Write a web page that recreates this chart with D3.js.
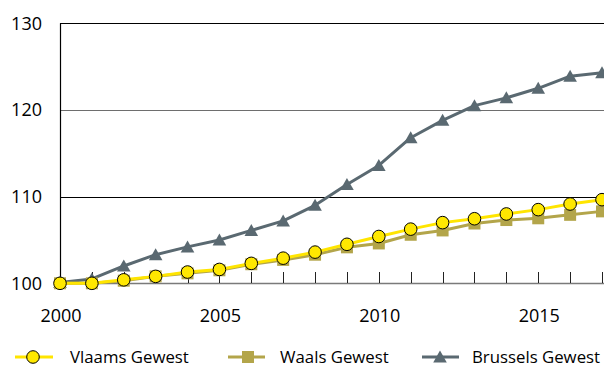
<!DOCTYPE html>
<html>
<head>
<meta charset="utf-8">
<script src="https://cdn.jsdelivr.net/npm/d3@7"></script>
<style>
  html, body { margin: 0; padding: 0; background: #fff; }
  svg { display: block; }
  text { font-family: "Open Sans", sans-serif; fill: #000; }
</style>
</head>
<body>
<svg id="chart" width="604" height="367"></svg>
<script>
const years = [2000, 2001, 2002, 2003, 2004, 2005, 2006, 2007, 2008, 2009, 2010, 2011, 2012, 2013, 2014, 2015, 2016, 2017];
const vlaams = [100, 100, 100.4, 100.8, 101.3, 101.6, 102.3, 102.9, 103.6, 104.5, 105.4, 106.25, 107.0, 107.45, 108.0, 108.5, 109.15, 109.65];
const waals = [100, 100, 100.3, 100.8, 101.15, 101.5, 102.2, 102.7, 103.3, 104.15, 104.6, 105.6, 106.1, 106.9, 107.3, 107.5, 107.9, 108.3];
const brussels = [100.1, 100.5, 102.0, 103.3, 104.2, 105.0, 106.1, 107.2, 109.0, 111.4, 113.6, 116.8, 118.8, 120.5, 121.4, 122.5, 123.9, 124.3];
const yTicks = [100, 110, 120, 130];
const xTickLabels = [2000, 2005, 2010, 2015];
const seriesNames = ["Vlaams Gewest", "Waals Gewest", "Brussels Gewest"];

const svg = d3.select("#chart");
const x = d3.scaleLinear().domain([2000, 2017]).range([60, 602]);
const y = d3.scaleLinear().domain([100, 130]).range([283.3, 23.3]);
const plotRight = 604;

// gridlines
const gridColors = {130: "#000", 120: "#6e6e6e", 110: "#000"};
svg.append("g").selectAll("line").data(yTicks.filter(t => t > 100)).join("line")
  .attr("x1", 60).attr("x2", plotRight)
  .attr("y1", d => Math.round(y(d)) + 0.5).attr("y2", d => Math.round(y(d)) + 0.5)
  .attr("stroke", d => gridColors[d]).attr("stroke-width", 1.2);

// x axis line and ticks (inside, pointing up)
svg.append("line").attr("x1", 60).attr("x2", plotRight)
  .attr("y1", 283.5).attr("y2", 283.5).attr("stroke", "#7a7a7a").attr("stroke-width", 1.6);
svg.append("g").selectAll("line").data(years.slice(1)).join("line")
  .attr("x1", d => Math.round(x(d)) + 0.5).attr("x2", d => Math.round(x(d)) + 0.5)
  .attr("y1", 272).attr("y2", 283)
  .attr("stroke", "#222").attr("stroke-width", 1);

// y axis line
svg.append("line").attr("x1", 60.5).attr("x2", 60.5)
  .attr("y1", y(130)).attr("y2", 284).attr("stroke", "#000").attr("stroke-width", 1.2);

// y labels
svg.append("g").selectAll("text").data(yTicks).join("text")
  .attr("x", 42).attr("y", d => y(d) + 6.2)
  .attr("text-anchor", "end").attr("font-size", 18)
  .text(d => d);

// x labels
svg.append("g").selectAll("text").data(xTickLabels).join("text")
  .attr("x", d => x(d) + 1).attr("y", 321.5)
  .attr("text-anchor", "middle").attr("font-size", 18)
  .text(d => d);

const colors = {vl: "#FFE500", wa: "#B3A54A", br: "#5A6971"};
const line = d3.line().x((d, i) => x(years[i])).y(d => y(d));

const triPath = "M0,-6.5L6.8,5.5L-6.8,5.5Z";
const sqPath = "M-6,-6H6V6H-6Z";

// Brussels
svg.append("path").datum(brussels).attr("d", line)
  .attr("fill", "none").attr("stroke", colors.br).attr("stroke-width", 3).attr("stroke-linejoin", "round");
svg.append("g").selectAll("path").data(brussels).join("path")
  .attr("transform", (d, i) => `translate(${x(years[i])},${y(d)})`)
  .attr("d", triPath).attr("fill", colors.br);

// Waals
svg.append("path").datum(waals).attr("d", line)
  .attr("fill", "none").attr("stroke", colors.wa).attr("stroke-width", 3).attr("stroke-linejoin", "round");
svg.append("g").selectAll("path").data(waals).join("path")
  .attr("transform", (d, i) => `translate(${x(years[i])},${y(d)})`)
  .attr("d", sqPath).attr("fill", colors.wa);

// Vlaams
svg.append("path").datum(vlaams).attr("d", line)
  .attr("fill", "none").attr("stroke", colors.vl).attr("stroke-width", 3).attr("stroke-linejoin", "round");
svg.append("g").selectAll("circle").data(vlaams).join("circle")
  .attr("cx", (d, i) => x(years[i])).attr("cy", d => y(d)).attr("r", 6.3)
  .attr("fill", "#FFE800").attr("stroke", "#000").attr("stroke-width", 1);

// legend
const legendY = 357;
const legend = [
  {name: seriesNames[0], x1: 15, x2: 53, mx: 33, tx: 70, color: colors.vl, kind: "circle"},
  {name: seriesNames[1], x1: 228, x2: 265, mx: 248, tx: 280, color: colors.wa, kind: "square"},
  {name: seriesNames[2], x1: 422, x2: 459, mx: 440, tx: 472, color: colors.br, kind: "triangle"}
];
const lg = svg.append("g").selectAll("g").data(legend).join("g");
lg.append("line").attr("x1", d => d.x1).attr("x2", d => d.x2)
  .attr("y1", legendY).attr("y2", legendY)
  .attr("stroke", d => d.color).attr("stroke-width", 3);
lg.each(function(d) {
  const g = d3.select(this);
  if (d.kind === "circle") {
    g.append("circle").attr("cx", d.mx).attr("cy", legendY).attr("r", 6.3)
      .attr("fill", "#FFE800").attr("stroke", "#000").attr("stroke-width", 1);
  } else if (d.kind === "square") {
    g.append("path").attr("transform", `translate(${d.mx},${legendY})`).attr("d", sqPath).attr("fill", d.color);
  } else {
    g.append("path").attr("transform", `translate(${d.mx},${legendY})`).attr("d", triPath).attr("fill", d.color);
  }
});
lg.append("text").attr("x", d => d.tx).attr("y", legendY + 5.5)
  .attr("font-size", 16.8).text(d => d.name);
</script>
</body>
</html>
